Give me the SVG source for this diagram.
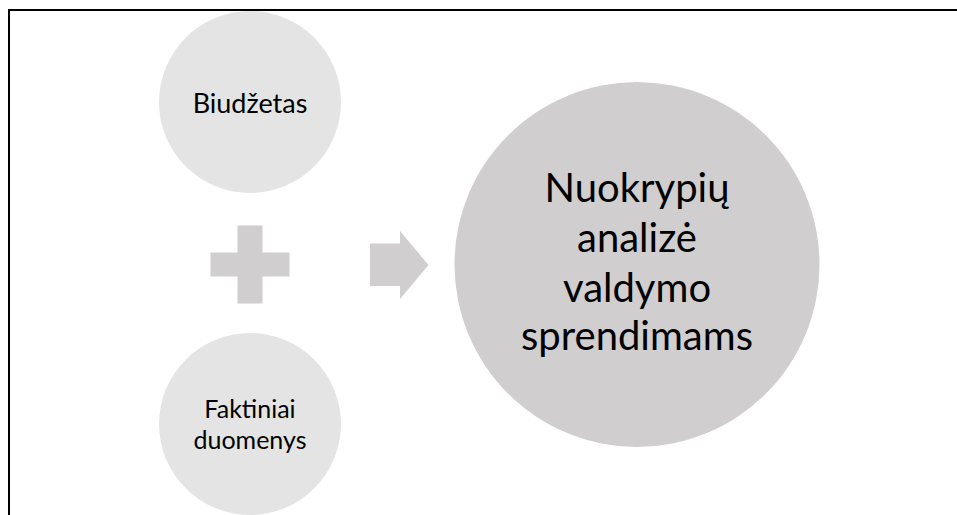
<svg xmlns="http://www.w3.org/2000/svg" width="957" height="515" viewBox="0 0 957 515">
<style>
.small{fill:#e4e4e4}
.big{fill:#d0cece}
.shape{fill:#d0cece}
text{font-family:Lato,"Open Sans","Liberation Sans",sans-serif;fill:#000;text-anchor:middle}
.t1{font-size:27px}
.t3{font-size:25px}
.t2{font-size:40px}
</style>
<rect width="957" height="515" fill="#fff"/>
<path d="M9,515 V10 H957" fill="none" stroke="#000" stroke-width="2"/>
<g id="node-biudzetas">
<circle class="small" cx="250" cy="102" r="91"/>
<text class="t1" x="250" y="113">Biudžetas</text>
</g>
<g id="node-faktiniai">
<circle class="small" cx="250" cy="424" r="91"/>
<text class="t3" x="250" y="418">Faktiniai</text>
<text class="t3" x="250" y="449">duomenys</text>
</g>
<g id="node-plus">
<path class="shape" d="M237.5,225.5 H262.5 V252.5 H289.5 V276.5 H262.5 V303.5 H237.5 V276.5 H210.5 V252.5 H237.5 Z"/>
</g>
<g id="connectors">
<polygon class="shape" points="370,243.5 400,243.5 400,231 428.5,265 400,299 400,286 370,286"/>
</g>
<g id="node-nuokrypiu">
<circle class="big" cx="637" cy="264.5" r="182.5"/>
<text class="t2" x="637" y="202">Nuokrypių</text>
<text class="t2" x="637" y="252">analizė</text>
<text class="t2" x="637" y="302">valdymo</text>
<text class="t2" x="637" y="350">sprendimams</text>
</g>
</svg>
